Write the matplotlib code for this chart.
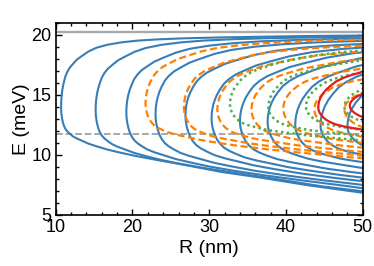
import numpy as np
import matplotlib
matplotlib.use("Agg")
import matplotlib.pyplot as plt
from matplotlib.ticker import MultipleLocator

plt.rcParams["font.family"] = ["Liberation Sans", "DejaVu Sans"]
plt.rcParams["font.size"] = 13

# normalised nose shape
# s = R_tip / R ; rise/drop are fractions of the branch height at the outer end
s_grid = [1.0, 0.999, 0.997, 0.993, 0.987, 0.978, 0.966, 0.95, 0.93, 0.905,
          0.875, 0.84, 0.80, 0.75, 0.70, 0.64, 0.58, 0.52, 0.46, 0.40,
          0.34, 0.29, 0.25, 0.20]
rise_up = [0.0, 0.063, 0.110, 0.167, 0.225, 0.29, 0.355, 0.43, 0.492, 0.55,
           0.60, 0.66, 0.71, 0.775, 0.826, 0.868, 0.90, 0.925, 0.943, 0.958,
           0.97, 0.98, 0.99, 1.0]
drop_lo = [0.0, 0.038, 0.066, 0.10, 0.137, 0.178, 0.215, 0.25, 0.278, 0.305,
           0.335, 0.36, 0.385, 0.42, 0.45, 0.488, 0.525, 0.565, 0.61, 0.665,
           0.745, 0.815, 0.90, 1.03]

# per curve: tip radius (nm), tip energy, upper / lower energy at R = 50 nm
blue_tip_R = [10.7, 15.2, 19.2, 23.0, 26.9, 30.3, 34.0, 37.6, 41.2, 44.5, 48.0]
blue_tip_E = [13.97, 13.75, 13.55, 13.4, 13.3, 13.05, 12.8, 12.75, 12.5, 12.4, 12.35]
blue_up50 = [19.95, 19.85, 19.7, 19.5, 19.25, 18.95, 18.55, 18.1, 17.5, 16.7, 15.0]
blue_lo50 = [6.8, 6.95, 7.2, 7.5, 7.8, 8.1, 8.45, 8.9, 9.4, 10.0, 10.8]

orange_tip_R = [21.7, 26.7, 31.05, 35.5, 39.65, 43.7, 47.6]
orange_tip_E = [14.25, 13.95, 13.75, 13.75, 13.85, 13.8, 13.8]
orange_up50 = [19.6, 19.1, 18.6, 18.0, 17.2, 16.3, 15.2]
orange_lo50 = [9.7, 9.95, 10.25, 10.6, 11.0, 11.5, 12.3]

green_tip_R = [32.7, 37.7, 42.6, 47.6]
green_tip_E = [14.2, 13.95, 14.0, 14.0]
green_up50 = [18.7, 17.9, 16.9, 15.5]
green_lo50 = [11.2, 11.6, 12.1, 12.8]

red_tip_R = [44.2, 48.3]
red_tip_E = [13.95, 14.1]
red_up50 = [16.9, 15.1]
red_lo50 = [12.1, 13.15]

E_top_line = 20.2
E_dash_line = 11.75


def nose(R0, Et, up50, lo50):
    s = np.array(s_grid)
    gu = np.array(rise_up)
    gl = np.array(drop_lo)
    gu50 = np.interp(R0 / 50.0, s[::-1], gu[::-1])
    gl50 = np.interp(R0 / 50.0, s[::-1], gl[::-1])
    R = R0 / s
    E_up = Et + (up50 - Et) * gu / gu50
    E_lo = Et - (Et - lo50) * gl / gl50
    RR = np.concatenate([R[::-1], R[1:]])
    EE = np.concatenate([E_lo[::-1], E_up[1:]])
    return RR, EE


fig = plt.figure(figsize=(3.74, 2.66), dpi=100)
ax = fig.add_axes([0.149, 0.192, 0.821, 0.722])

ax.axhline(E_top_line, color="#aaaaaa", lw=1.7, zorder=1)
ax.axhline(E_dash_line, color="#a0a0a0", lw=1.3, ls="--", zorder=1)

families = [
    (blue_tip_R, blue_tip_E, blue_up50, blue_lo50, "#377eb8", "-", 1.5),
    (orange_tip_R, orange_tip_E, orange_up50, orange_lo50, "#ff7f00", (0, (3.2, 1.6)), 1.6),
    (green_tip_R, green_tip_E, green_up50, green_lo50, "#4daf4a", (0, (1, 1.3)), 1.8),
    (red_tip_R, red_tip_E, red_up50, red_lo50, "#e41a1c", "-", 1.6),
]
for tipR, tipE, up, lo, col, ls, lw in families:
    for i in range(len(tipR)):
        RR, EE = nose(tipR[i], tipE[i], up[i], lo[i])
        ax.plot(RR, EE, color=col, ls=ls, lw=lw, zorder=2)

ax.set_xlim(10, 50)
ax.set_ylim(5, 21)
ax.xaxis.set_major_locator(MultipleLocator(10))
ax.xaxis.set_minor_locator(MultipleLocator(2))
ax.yaxis.set_major_locator(MultipleLocator(5))
ax.yaxis.set_minor_locator(MultipleLocator(1))
ax.tick_params(which="both", direction="in", top=True, right=True, width=1)
ax.tick_params(which="major", length=4, pad=3, labelsize=13)
ax.tick_params(which="minor", length=2.5)
for sp in ax.spines.values():
    sp.set_linewidth(1.2)
ax.set_xlabel("R (nm)", labelpad=3, fontsize=14)
ax.set_ylabel("E (meV)", labelpad=1, fontsize=14)

fig.savefig("out.png", dpi=100)
